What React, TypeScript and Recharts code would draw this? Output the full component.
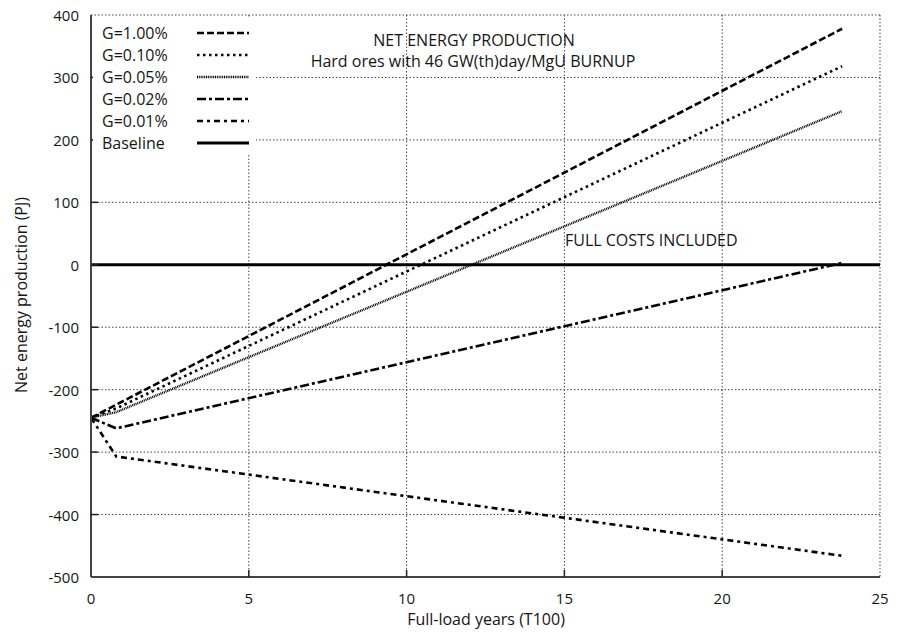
import { LineChart, Line, XAxis, YAxis, CartesianGrid, Label } from "recharts";

// full-load years where each G curve has a point
const years = [0, 0.8, 23.8];
const g100 = [-245, -224, 378];
const g010 = [-245, -230, 318];
const g005 = [-245, -236, 246];
const g002 = [-245, -262, 3];
const g001 = [-245, -307, -466];
const baselineYears = [0, 25];
const baselineValues = [0, 0];

const xTicks = [0, 5, 10, 15, 20, 25];
const yTicks = [-500, -400, -300, -200, -100, 0, 100, 200, 300, 400];

const FONT = "'Open Sans', sans-serif";
const INK = "#151515";
const PLOT_LEFT = 91;
const PLOT_RIGHT = 880;
const PLOT_TOP = 15;
const PLOT_BOTTOM = 577;

const toPoints = (xs: number[], ys: number[]) => xs.map((x, i) => ({ x, y: ys[i] }));

const series = [
  { name: "G=1.00%", values: g100, dash: "7 3", width: 2.6 },
  { name: "G=0.10%", values: g010, dash: "2.5 3.5", width: 2.6 },
  { name: "G=0.05%", values: g005, dash: "1 0.8", width: 2.4 },
  { name: "G=0.02%", values: g002, dash: "9 3 3 3", width: 2.6 },
  { name: "G=0.01%", values: g001, dash: "6 4 3 4", width: 2.6 },
];

const legendRows = [
  ...series.map((s) => ({ name: s.name, dash: s.dash, width: s.width })),
  { name: "Baseline", dash: undefined as string | undefined, width: 3 },
];

const BottomTick = ({ x, payload }: any) => (
  <g>
    <text x={x} y={PLOT_BOTTOM + 21} textAnchor="middle" dominantBaseline="central"
      fontFamily={FONT} fontSize={15} fill={INK}>{payload.value}</text>
    {payload.value > 0 && payload.value < 25 && (
      <line x1={x} x2={x} y1={PLOT_BOTTOM} y2={PLOT_BOTTOM - 7} stroke="#222" strokeWidth={1.5} />
    )}
  </g>
);

const TopTick = ({ x, payload }: any) =>
  payload.value > 0 && payload.value < 25 ? (
    <line x1={x} x2={x} y1={PLOT_TOP} y2={PLOT_TOP + 7} stroke="#222" strokeWidth={1.5} />
  ) : <g />;

const LeftTick = ({ y, payload }: any) => (
  <g>
    <text x={PLOT_LEFT - 12} y={y} textAnchor="end" dominantBaseline="central"
      fontFamily={FONT} fontSize={15} fill={INK}>{payload.value}</text>
    {payload.value > -500 && payload.value < 400 && (
      <line x1={PLOT_LEFT} x2={PLOT_LEFT + 7} y1={y} y2={y} stroke="#222" strokeWidth={1.5} />
    )}
  </g>
);

const RightTick = ({ y, payload }: any) =>
  payload.value > -500 && payload.value < 400 ? (
    <line x1={PLOT_RIGHT} x2={PLOT_RIGHT - 7} y1={y} y2={y} stroke="#222" strokeWidth={1.5} />
  ) : <g />;

export default function App() {
  return (
    <div style={{ position: "absolute", left: 0, top: 0, width: 905, height: 633, background: "#fff", fontFamily: FONT }}>
      <LineChart width={905} height={633} margin={{ top: PLOT_TOP, right: 905 - PLOT_RIGHT, bottom: 6, left: PLOT_LEFT - 80 }}>
        <CartesianGrid stroke="#444" strokeDasharray="1.5 2" strokeWidth={1} />
        <XAxis type="number" dataKey="x" domain={[0, 25]} ticks={xTicks} height={50}
          axisLine={{ stroke: "#444", strokeWidth: 2 }} tickLine={false} tick={<BottomTick />}>
          <Label content={() => (
            <text x={486} y={619} textAnchor="middle" dominantBaseline="central" fontFamily={FONT} fontSize={16} fill={INK}>
              Full-load years (T100)
            </text>
          )} />
        </XAxis>
        <XAxis xAxisId="top" orientation="top" type="number" dataKey="x" domain={[0, 25]} ticks={xTicks} height={0}
          axisLine={{ stroke: "#444", strokeWidth: 2 }} tickLine={false} tick={<TopTick />} />
        <YAxis type="number" domain={[-500, 400]} ticks={yTicks} width={80}
          axisLine={{ stroke: "#444", strokeWidth: 2 }} tickLine={false} tick={<LeftTick />}>
          <Label content={() => (
            <text x={21} y={295} textAnchor="middle" dominantBaseline="central" transform="rotate(-90 21 295)"
              fontFamily={FONT} fontSize={16} fill={INK}>
              Net energy production (PJ)
            </text>
          )} />
        </YAxis>
        <YAxis yAxisId="right" orientation="right" type="number" domain={[-500, 400]} ticks={yTicks} width={0}
          axisLine={{ stroke: "#444", strokeWidth: 2 }} tickLine={false} tick={<RightTick />} />
        <Line data={toPoints(baselineYears, baselineValues)} dataKey="y" stroke="#000" strokeWidth={3}
          dot={false} isAnimationActive={false} />
        {series.map((s) => (
          <Line key={s.name} data={toPoints(years, s.values)} dataKey="y" name={s.name} stroke="#000"
            strokeWidth={s.width} strokeDasharray={s.dash} dot={false} isAnimationActive={false} />
        ))}
      </LineChart>

      {/* legend box in the upper left of the plot */}
      <div style={{ position: "absolute", left: 93, top: 17, width: 163, height: 138, background: "#fff" }}>
        {legendRows.map((r, i) => (
          <div key={r.name} style={{ position: "absolute", left: 9, top: 5 + i * 22, height: 22, width: 160,
            display: "flex", alignItems: "center", fontSize: 16, color: INK }}>
            <span style={{ width: 95 }}>{r.name}</span>
            <svg width={52} height={8}>
              <line x1={0} x2={52} y1={4} y2={4} stroke="#000" strokeWidth={r.width} strokeDasharray={r.dash} />
            </svg>
          </div>
        ))}
      </div>

      <div style={{ position: "absolute", left: 0, top: 29, width: 948, textAlign: "center", fontSize: 16, color: INK }}>
        NET ENERGY PRODUCTION
      </div>
      <div style={{ position: "absolute", left: 0, top: 50, width: 946, textAlign: "center", fontSize: 16, color: INK }}>
        Hard ores with 46 GW(th)day/MgU BURNUP
      </div>
      <div style={{ position: "absolute", left: 565, top: 229, fontSize: 16, color: INK }}>
        FULL COSTS INCLUDED
      </div>
    </div>
  );
}
